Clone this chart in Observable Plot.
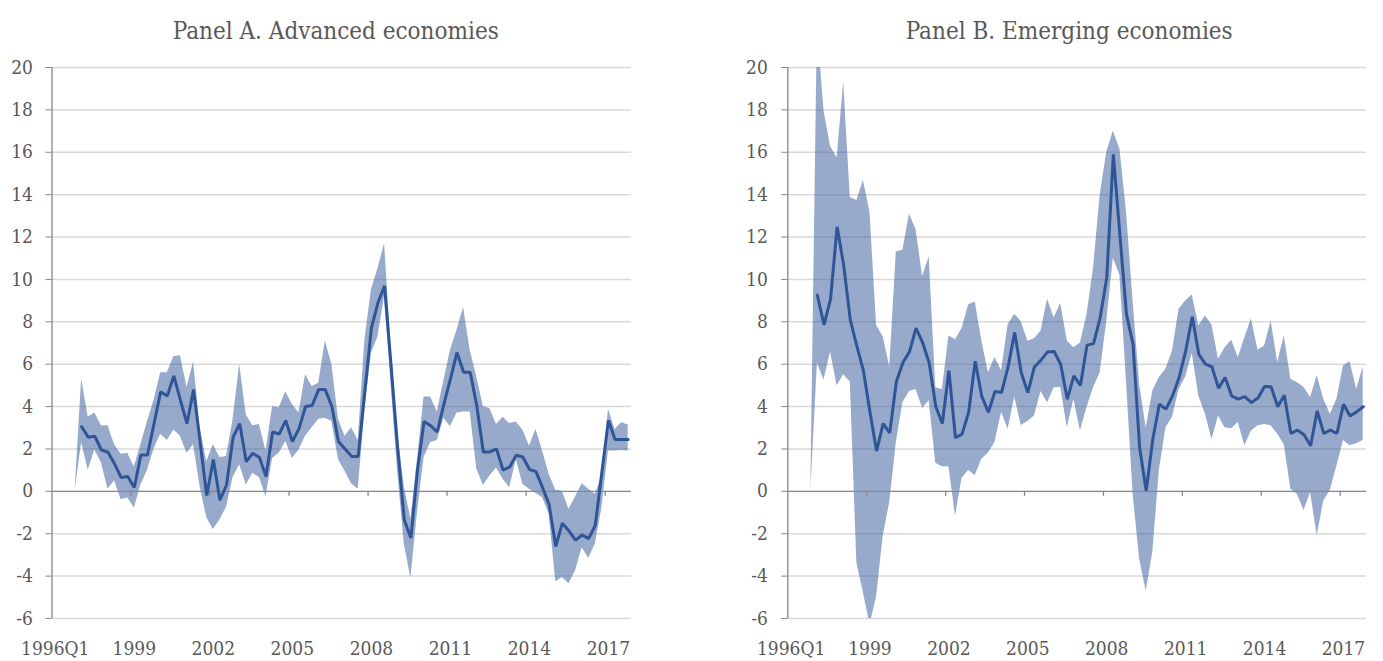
<!DOCTYPE html>
<html>
<head>
<meta charset="utf-8">
<script src="https://cdn.jsdelivr.net/npm/d3@7"></script>
<script src="https://cdn.jsdelivr.net/npm/@observablehq/plot@0.6"></script>
<style>
  html, body { margin: 0; padding: 0; background: #ffffff; }
  #wrap { display: flex; width: 1383px; height: 661px; overflow: hidden; }
  #wrap svg { display: block; }
</style>
</head>
<body>
<div id="wrap"></div>
<script>
// ---- categories / tick labels (quarter index 0 = 1996Q1 ... 87 = 2017Q4) ----
const tickIndex = [0, 12, 24, 36, 48, 60, 72, 84];
const tickLabels = ["1996Q1", "1999", "2002", "2005", "2008", "2011", "2014", "2017"];
const yTicks = [-6, -4, -2, 0, 2, 4, 6, 8, 10, 12, 14, 16, 18, 20];
const titleA = "Panel A. Advanced economies";
const titleB = "Panel B. Emerging economies";

// ---- Panel A: advanced economies ----
const advLine = [null, null, null, null,
  3.05, 2.55, 2.6, 1.95, 1.85, 1.3, 0.65, 0.7, 0.18, 1.72,
  1.72, 3.2, 4.7, 4.5, 5.45, 4.3, 3.2, 4.8, 2.3, -0.2,
  1.5, -0.42, 0.3, 2.55, 3.2, 1.4, 1.8, 1.6, 0.7, 2.8,
  2.7, 3.35, 2.35, 2.95, 4.0, 4.05, 4.8, 4.8, 4.0, 2.35,
  2.0, 1.65, 1.65, 4.7, 7.7, 8.9, 9.7, 5.9, 2.0, -1.35,
  -2.2, 1.0, 3.3, 3.1, 2.8, 4.1, 5.3, 6.55, 5.62, 5.62,
  4.05, 1.86, 1.86, 2.0, 1.0, 1.15, 1.7, 1.62, 1.04, 0.93,
  0.17, -0.64, -2.6, -1.5, -1.87, -2.3, -2.06, -2.23, -1.6, 0.9,
  3.35, 2.45, 2.45, 2.45];
const advHigh = [null, null, null, 0,
  5.3, 3.5, 3.7, 3.1, 3.1, 2.2, 1.75, 1.8, 1.15, 2.2,
  3.3, 4.3, 5.6, 5.6, 6.35, 6.4, 4.9, 6.1, 3.0, 1.4,
  2.2, 1.6, 1.65, 3.4, 6.0, 3.6, 3.1, 3.15, 1.9, 4.0,
  3.95, 4.7, 4.1, 3.7, 5.5, 4.95, 5.1, 7.1, 6.0, 3.4,
  2.6, 3.0, 2.4, 7.1, 9.5, 10.5, 11.7, 6.8, 2.8, 0.2,
  -1.3, 1.5, 4.45, 4.45, 3.75, 5.2, 6.65, 7.6, 8.68, 6.66,
  5.4, 4.0, 3.9, 3.15, 3.5, 3.2, 3.27, 2.9, 2.14, 2.92,
  1.9, 0.8, 0.05, 0.0, -0.85, -0.27, 0.36, 0.1, -0.14, 0.7,
  3.87, 2.92, 3.24, 3.13];
const advLow = [null, null, null, 0,
  2.3, 1.0, 1.95, 1.35, 0.1, 0.5, -0.4, -0.3, -0.8, 0.3,
  1.0, 2.0, 2.7, 2.4, 2.9, 2.6, 1.8, 2.2, 0.2, -1.25,
  -1.8, -1.35, -0.75, 0.65, 1.25, 0.3, 0.85, 0.65, -0.25, 1.55,
  1.8, 2.35, 1.55, 1.95, 2.6, 3.0, 3.4, 3.45, 3.3, 1.5,
  0.95, 0.35, 0.1, 3.8, 6.5, 7.3, 9.2, 5.0, 0.9, -2.5,
  -4.1, -1.0, 1.6, 2.3, 2.4, 3.45, 3.05, 3.7, 3.75, 3.75,
  1.07, 0.28, 0.72, 1.1, 0.57, 0.17, 1.5, 0.33, 0.1, -0.1,
  -0.3, -1.08, -4.26, -4.07, -4.36, -3.76, -2.66, -3.16, -2.5, -0.8,
  1.9, 1.9, 1.93, 1.9];

// ---- Panel B: emerging economies ----
const emgLine = [null, null, null, null,
  9.25, 7.86, 9.07, 12.48, 10.67, 8.09, 6.85, 5.7, 3.73, 1.9,
  3.2, 2.76, 5.16, 6.08, 6.58, 7.7, 7.02, 6.05, 4.0, 3.2,
  5.7, 2.53, 2.7, 3.73, 6.14, 4.48, 3.73, 4.71, 4.66, 5.87,
  7.5, 5.6, 4.66, 5.87, 6.19, 6.58, 6.6, 6.0, 4.35, 5.45,
  5.0, 6.9, 6.97, 8.2, 10.08, 15.9, 12.1, 8.35, 6.94, 2.07,
  0.03, 2.46, 4.11, 3.88, 4.5, 5.37, 6.62, 8.24, 6.47, 6.0,
  5.87, 4.87, 5.37, 4.5, 4.35, 4.47, 4.19, 4.4, 4.95, 4.93,
  3.99, 4.54, 2.73, 2.89, 2.67, 2.15, 3.8, 2.73, 2.89, 2.73,
  4.11, 3.56, 3.75, 3.99];
const emgHigh = [null, null, null, 0,
  22, 17.96, 16.27, 15.74, 19.3, 13.87, 13.73, 14.67, 13.16, 7.82,
  7.29, 5.87, 11.29, 11.38, 13.07, 12.36, 10.14, 11.06, 4.89, 4.8,
  7.33, 7.15, 7.68, 8.8, 8.93, 7.11, 5.6, 6.31, 5.69, 7.86,
  8.36, 8.0, 7.08, 7.2, 7.56, 9.07, 8.18, 8.86, 7.1, 6.78,
  7.0, 8.35, 10.55, 14.0, 16.0, 17.0, 16.15, 13.2, 8.98, 5.05,
  3.0, 4.74, 5.37, 5.76, 6.62, 8.59, 8.98, 9.26, 7.8, 8.27,
  7.85, 6.23, 6.78, 7.13, 6.31, 7.25, 8.15, 6.66, 6.86, 8.04,
  6.08, 7.33, 5.29, 5.13, 4.9, 4.43, 5.45, 4.35, 3.64, 4.35,
  5.92, 6.12, 4.82, 5.84];
const emgLow = [null, null, null, 0,
  6.05, 5.25, 6.58, 4.98, 5.5, 5.16, -3.38, -4.8, -6.3, -4.98,
  -2.13, -0.53, 2.31, 4.18, 4.71, 4.8, 3.91, 4.27, 1.33, 1.16,
  1.16, -1.16, 0.62, 0.98, 0.75, 1.51, 1.81, 2.31, 3.73, 2.93,
  4.45, 3.11, 3.29, 3.56, 4.71, 4.18, 4.89, 4.9, 3.0, 4.35,
  2.86, 3.96, 4.9, 5.6, 8.0, 11.0, 10.2, 5.2, -0.1, -3.2,
  -4.7, -2.9, 1.0, 3.0, 3.5, 4.8, 5.4, 6.5, 4.5, 3.65,
  2.45, 3.55, 3.0, 2.95, 3.25, 2.15, 2.85, 3.1, 3.15, 3.1,
  2.7, 2.2, 0.1, -0.15, -0.9, -0.05, -2.1, -0.45, 0.05, 1.2,
  2.4, 2.15, 2.25, 2.4];

const FONT = "'DejaVu Serif Condensed', 'DejaVu Serif', serif";
const TEXT = "#595959";
const AXIS = "#868686";
const GRID = "#d9d9d9";
const BLUE = "#2f5597";

function panel(title, line, low, high, cfg) {
  const rows = line.map((v, i) => ({ i, v, lo: low[i], hi: high[i] }));
  const bandRows = rows.filter(d => d.lo != null && d.hi != null);
  const xDomain = [-0.5, line.length - 0.5];
  const bounds = tickIndex.slice(1).map(d => d - 0.5);
  return Plot.plot({
    width: cfg.width,
    height: 661,
    marginLeft: cfg.marginLeft,
    marginRight: cfg.marginRight,
    marginTop: 67,
    marginBottom: 43,
    x: { type: "linear", domain: xDomain, label: null },
    y: { type: "linear", domain: [yTicks[0], yTicks[yTicks.length - 1]], label: null },
    style: { fontFamily: FONT, fontStretch: "condensed", fontSize: "19px", color: TEXT, background: "#ffffff" },
    marks: [
      Plot.ruleY(yTicks.filter(d => d !== 0), { stroke: GRID, strokeWidth: 1.5 }),
      Plot.areaY(bandRows, { x: "i", y1: "lo", y2: "hi", fill: BLUE, fillOpacity: 0.5, clip: true }),
      Plot.ruleY([0], { stroke: AXIS, strokeWidth: 1.3 }),
      Plot.ruleX(bounds, { x: d => d, y1: 0, y2: 0, insetBottom: -5, stroke: AXIS, strokeWidth: 1.3 }),
      Plot.ruleX([xDomain[0]], { y1: yTicks[0], y2: yTicks[yTicks.length - 1], stroke: AXIS, strokeWidth: 1.3 }),
      Plot.axisY({ ticks: yTicks, tickSize: 6, tickPadding: cfg.yPad, stroke: AXIS, fill: TEXT, fontSize: 19,
        label: null, tickFormat: d => String(d) }),
      Plot.axisX({ ticks: tickIndex, tickSize: 0, tickPadding: 23, fill: TEXT, fontSize: 19, label: null,
        tickFormat: d => tickLabels[tickIndex.indexOf(d)] }),
      Plot.lineY(rows, { x: "i", y: "v", stroke: BLUE, strokeWidth: 3, strokeLinejoin: "miter", clip: true }),
      Plot.text([title], { frameAnchor: "top", dy: -46, dx: cfg.titleDx, fontSize: 24, fill: TEXT, fontFamily: FONT })
    ]
  });
}

const wrap = document.getElementById("wrap");
wrap.appendChild(panel(titleA, advLine, advLow, advHigh, { width: 692, marginLeft: 51.5, marginRight: 61, yPad: 13, titleDx: -6 }));
wrap.appendChild(panel(titleB, emgLine, emgLow, emgHigh, { width: 691, marginLeft: 95.3, marginRight: 17, yPad: 14, titleDx: -8 }));
</script>
</body>
</html>
